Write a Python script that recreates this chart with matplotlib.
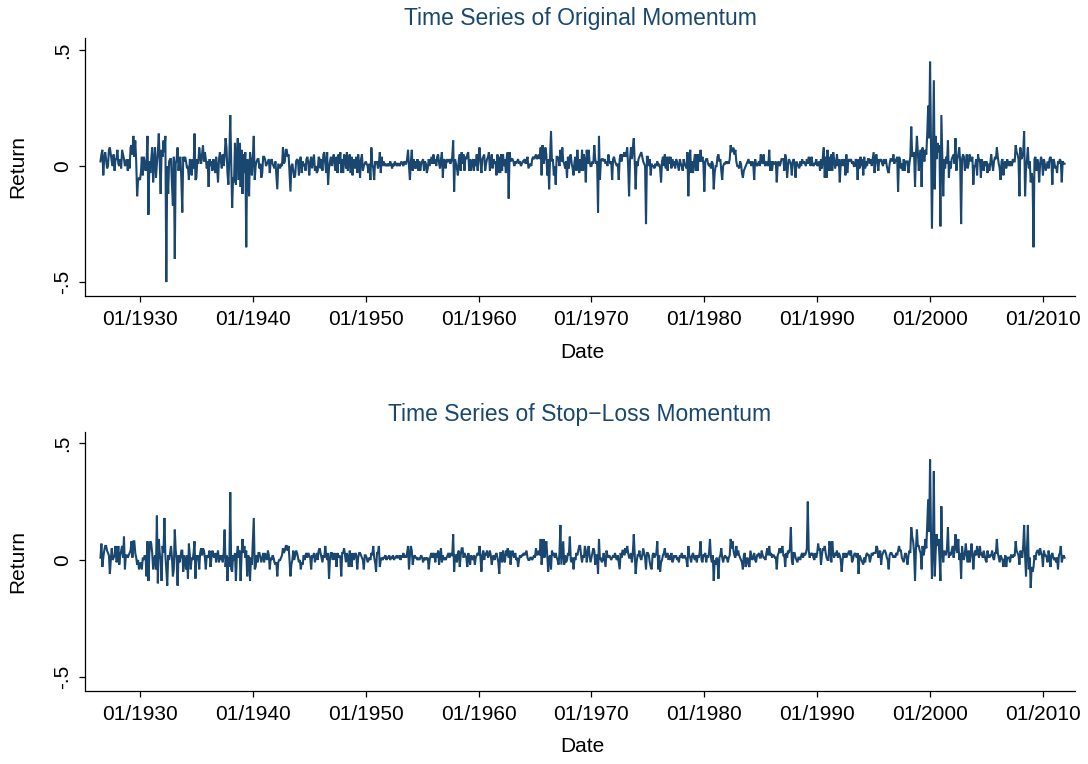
import numpy as np
import matplotlib
matplotlib.use("Agg")
import matplotlib.pyplot as plt

# ---------------- data (monthly returns, in percent) ----------------
# Original momentum
orig_1920s = [2, 5, 7, -4, 3, 6,
              3, -1, 0, 7, 8, 5, 2, 0, 5, -2, 3, 3,
              7, 1, 0, 3, -1, 7, 5, 3, 0, 1, 3, -2,
              3, -1, 8, 9, 5, 13, 4, 11, 2, -13, -6, -5]
orig_1930s = [-6, -3, 4, -4, 4, 2, -2, 1, 13, -21, 2, -3,
              3, 8, -7, 2, 8, -5, 1, 6, 14, 2, -12, 7,
              4, 11, 6, 13, -50, 0, -12, 2, 3, 3, -8, -17,
              4, -40, 1, 3, 8, -2, 3, 4, -6, -20, 4, 2,
              4, 2, -1, 0, -6, 3, 2, -4, 3, -1, 14, -6,
              -5, 3, 1, 8, 4, 1, 5, 9, 2, 6, 3, -1,
              2, -9, 3, 0, 2, -2, 3, 1, -3, 4, -1, -7,
              3, 6, 2, -1, 5, 0, 4, 12, 8, -3, -8, 4,
              22, 3, -18, -5, -7, 10, -8, 5, 12, -6, 10, -9,
              7, -12, 5, -3, 6, -35, 3, 2, -13, 6, 2, -4]
orig_1940s = [4, 13, -6, 0, 2, 3, 3, -1, 1, -5, -3, 4,
              4, 3, 0, 1, 2, 3, -3, 2, 3, 1, 0, -1,
              2, -4, -10, 1, 0, -1, 1, 0, 8, 1, 2, 7,
              7, 4, 5, -3, -11, 0, 1, -2, -5, -4, 2, 3,
              2, -4, 3, 4, -3, 2, 0, 1, -2, 3, 4, 1,
              -4, 2, 4, -1, 2, 5, -2, 0, -3, -2, 4, 3,
              -1, 3, -2, 5, 6, 1, -3, 6, -8, -1, 2, 4,
              0, 3, 5, 0, -2, 4, -3, 5, 1, 6, -3, 3,
              -3, 5, 4, -1, 6, -2, 2, 5, -3, 4, -4, 3,
              0, -1, 4, -3, 5, 1, -5, 3, 5, -2, 0, 1]
orig_1950s = [2, 1, 0, -3, 1, -6, 8, 1, -1, -6, 2, 1,
              2, -1, 1, 6, -3, 4, 0, 2, 1, 0, 1, 0,
              1, 0, 2, 1, -1, 1, 0, 2, 1, 0, 1, 1,
              0, 1, 2, 1, 0, 2, 1, 1, 3, 7, 0, -6,
              2, 7, -2, 3, -1, 2, -1, 3, -2, 2, -2, 1,
              2, 3, -2, 2, 1, -3, -1, 3, 0, 2, 4, 1,
              5, 1, 3, 0, 4, 5, 1, -1, 3, 6, -5, 3,
              2, -1, 3, 2, 2, 3, 1, 2, 4, 11, -11, 3,
              1, -1, -4, 3, 5, -2, 6, 1, 5, -2, 4, 3,
              5, 6, -2, 3, -2, 2, 3, -2, 3, 0, 5, -2]
orig_1960s = [4, 8, 2, -3, 3, 4, 5, -2, 1, 3, 4, 6,
              -2, 1, 5, -1, 3, 1, 2, -4, 5, -3, 4, -3,
              5, -2, 5, 0, 3, -3, 4, 6, -14, 6, 2, 3,
              3, 2, 0, 2, 1, 2, 3, 1, 2, 0, 1, 2,
              2, 3, 1, 2, 4, -1, 0, 1, 0, 3, 4, 3,
              4, 5, 3, 4, 5, 3, 8, -4, 9, 1, 3, 8,
              5, -4, 3, -10, 4, 15, 2, 3, -4, 0, -8, 4,
              4, 3, 0, 7, 2, 8, 2, 1, -1, 2, -5, 4,
              -1, 4, 5, 1, -1, -4, 2, 4, -2, 7, 1, -3,
              3, -2, 7, -2, 5, 2, -7, 7, 1, 7, 2, 0]
orig_1970s = [0, 2, 1, 9, 3, 1, 2, -20, 13, -6, 2, 3,
              3, 2, 3, 1, 2, 0, 5, 2, 1, 2, -6, 3,
              4, 2, 1, 0, 1, -6, 3, 5, 2, 5, 4, 6,
              4, 5, 8, 0, -13, 3, 8, 3, 8, 12, 2, -10,
              2, 0, 3, 4, 5, 6, 4, 2, 1, 0, -25, 4,
              4, 0, 3, -4, 1, 0, 0, -1, 1, 0, 2, 0,
              1, -1, -7, 2, 4, 0, 5, -1, 4, -2, 4, 1,
              4, -1, 3, 0, 2, -1, 3, 2, 0, -2, 3, 1,
              0, -2, 3, 1, 0, -1, 6, -13, 2, 7, -3, 2,
              -3, 2, 5, -2, 5, -2, 5, 2, 7, 2, 4, 1]
orig_1980s = [-11, 2, 3, 3, 1, 0, 1, -1, 2, 1, -10, -3,
              0, 0, 4, 5, 2, 3, -2, -6, 0, 1, 1, 2,
              1, 2, 1, 3, 9, 6, 7, 8, 5, 7, 2, 0,
              0, -1, 2, 1, -3, -5, -2, -1, 0, 1, 2, 3,
              1, 2, 0, 2, 1, -6, 3, 1, 0, 1, 2, 0,
              5, 2, 1, 5, 1, 0, 2, 1, 0, 7, -2, 2,
              -2, 2, 1, 1, 2, -7, 1, 2, 0, 1, 3, 3,
              3, -2, 5, 3, -5, 0, 3, 2, 1, -4, 2, 3,
              1, -5, 2, 1, 0, -1, 2, 0, 3, 1, 2, 1,
              0, 3, 1, 4, 3, 0, 4, 1, 0, 1, 1, 3]
orig_1990s = [0, 1, 2, -2, 3, -1, 4, 8, -5, 4, -5, 7,
              -2, 4, -2, 5, -2, 6, 3, -1, 1, 5, 0, 3,
              -7, 1, 3, 0, 2, 3, -4, 5, -3, 2, 3, 2,
              3, 1, 2, 0, 0, 3, 2, -6, 3, -1, 4, 0,
              3, -4, 4, -1, 2, 0, 3, 3, 1, 3, 0, 3,
              6, -3, 4, 5, 1, -2, 3, 2, 3, 1, 0, 3,
              1, 3, 0, -2, -3, 1, 3, 3, 2, 5, 1, 3,
              2, 4, -11, 4, 3, -1, 1, -2, 3, -2, 2, 2,
              2, -3, 1, 4, 17, 4, 5, 6, -9, 5, 13, 6,
              -2, 3, 7, -9, 8, 4, 2, 7, 5, 14, 26, 12]
orig_2000s = [45, 8, -27, 6, 37, -10, 13, 3, 10, 6, 9, -26,
              22, 5, -13, 3, -1, 4, 1, 11, -5, 2, -1, 3,
              4, 5, 1, 12, -2, 3, 5, 8, 2, -25, 3, 5,
              4, -2, 1, 5, -1, 1, 5, 2, 3, 4, -8, 0,
              0, 3, -4, 5, 2, 3, -5, 3, 1, -2, 2, 0,
              2, -3, 1, -2, 1, 5, 1, -2, 2, 4, 3, 8,
              4, 1, -1, -6, 2, 3, -4, 1, 2, -1, 3, 0,
              2, 0, 2, 0, 3, 2, 2, 9, 6, 5, 3, -13,
              8, 3, 4, 6, 15, -13, -1, 3, 8, -1, 2, -7,
              -3, -6, -35, 3, 4, -2, 3, 1, -7, 1, 4, 2]
orig_2010s = [-4, 3, 1, -2, 0, 2, -1, 3, 4, 2, -8, 3,
              2, -1, 0, -3, 2, 1, 3, 2, -7, 2, 1, 1]

# Stop-loss momentum
sl_1920s = [1, 7, -3, 1, 4, 6,
            6, 4, 3, 2, -6, 0, 5, 0, 1, 2, 6, -1,
            0, 6, -2, 2, 4, 6, 1, 10, -4, 2, 2, 1,
            2, 3, 4, 8, 1, 8, 8, 3, 1, -2, 0, -4]
sl_1930s = [-2, -1, -4, 1, 0, 2, 1, -7, 8, -9, 3, 8,
            7, 3, -4, 0, 2, -4, 19, -10, 9, 3, 0, -9,
            6, 3, 18, 2, -4, -11, 2, 0, 3, 6, 1, -7,
            -4, 13, 4, 0, -11, 2, -1, 1, 4, 4, -5, 2,
            0, -4, 2, -8, 7, 2, -4, 1, 0, 3, 8, -8,
            2, 0, 2, -4, 3, 5, 2, 5, 4, 1, -4, 2,
            1, 2, 4, -3, 1, 4, 2, 1, 3, -1, 2, 4,
            -1, 2, 0, 2, -1, 3, 13, -3, 2, -9, 1, -3,
            29, -4, -5, 2, 0, 3, -9, 2, 6, 1, 4, -9,
            2, 9, 3, 6, 1, 4, -7, 2, 1, -9, 1, -2]
sl_1940s = [8, 18, -4, -3, 2, -1, 3, 3, 1, -1, 1, 3,
            -1, 3, 1, 0, 4, 2, -4, 1, 0, 2, 1, -1,
            -2, -1, -7, -1, 0, 0, 1, 2, 5, 3, 4, 6,
            6, 4, 6, 0, -7, -2, 0, 4, 0, 2, 4, 3,
            1, -1, 0, -4, -1, -2, 2, 0, 2, 3, 1, 3,
            2, 1, -4, 2, 1, 3, -1, 1, 3, 0, 4, 5,
            3, 1, -1, 2, 1, 6, 2, 0, 3, -8, 0, 3,
            3, 0, 3, 0, 3, -3, 3, 1, 2, 1, -7, 3,
            3, 5, 2, -1, 3, 1, -3, 4, 1, -3, 3, 0,
            1, 3, 2, -4, 1, 3, 3, 2, 1, 0, -4, 2]
sl_1950s = [2, 1, -1, 0, 1, 0, 3, 2, 6, 1, -1, -5,
            3, 3, 6, -3, 0, 1, 0, 1, 1, 2, 0, 1,
            1, 2, 0, 1, 1, 2, 0, 1, 1, 2, 1, 1,
            2, 0, 2, 1, 3, 1, 2, 1, 3, 6, -4, 2,
            6, 4, -2, 1, 2, 1, 1, 0, 1, 0, 1, 2,
            1, -1, 1, 0, 1, 0, 1, -4, 0, 2, 3, 1,
            3, 2, -1, 3, 1, 4, -2, 2, 5, -1, 2, 0,
            1, 0, 1, 2, 3, 1, 3, 2, 2, 11, -5, 2,
            2, -1, 3, 4, -3, 2, 5, 5, 1, 3, 2, 1,
            -3, 3, 1, -2, 2, 1, 0, 2, -2, 1, 2, 3]
sl_1960s = [2, 6, 1, -5, 2, 4, 0, 3, 2, 4, 1, 2,
            4, 2, -2, 1, 2, 0, 2, 3, 1, -1, -6, 3,
            3, -1, 4, 0, -1, 4, 2, 5, 1, 4, -2, 2,
            4, 2, 1, 3, 0, 1, -3, 0, 2, 1, 2, 2,
            3, 2, 3, 4, 1, 0, 0, 1, 1, 0, 1, 2,
            1, 5, 2, 3, 4, 2, 9, -2, 3, 9, 1, 4,
            8, 2, -5, 1, 2, -4, 4, 2, 3, 1, 3, 1,
            0, -2, 3, 15, -2, 3, 8, -2, 2, -1, 0, 3,
            2, 10, 0, -1, 1, -4, 1, 0, 3, 2, 4, 6,
            6, 2, -1, 2, 1, 6, 4, -1, 3, 6, 2, -1]
sl_1970s = [1, 3, 5, 4, -2, 2, 2, -6, 9, 0, 1, -1,
            0, 3, 0, -3, 4, 2, 1, 2, 1, 0, 1, 2,
            1, 3, 1, 0, 2, -1, -4, 3, 1, 4, 4, 2,
            5, 3, 6, 3, 1, 1, 3, -1, 3, 11, 2, -6,
            -1, 2, 2, 4, 1, 0, 2, 5, 3, 1, -4, 3,
            3, 2, -1, -3, -4, 2, 3, 1, 2, 3, 8, -4,
            2, -5, -1, 0, 2, 3, 5, 1, 2, 3, 0, 2,
            0, 3, -1, 0, 2, 1, 2, 0, 1, -1, 2, 1,
            3, 1, 1, 2, 1, 0, -3, 6, 2, 1, -1, 2,
            3, 1, 0, 2, -1, 2, 1, 3, 8, 0, -1, 2]
sl_1980s = [2, 3, -1, 2, 1, 3, 9, 1, -1, 2, -9, 0,
            -2, 1, 0, -8, 1, 2, 5, 1, -1, 1, 2, 1,
            1, -1, 1, 2, 9, 5, 8, 4, 2, 1, 6, 2,
            4, 2, 1, 0, -1, -4, 2, 3, -3, 0, 1, -2,
            -3, 4, 2, 0, 1, 3, 0, -1, 2, 2, 3, 1,
            1, 4, 2, 1, 1, 0, 3, 5, 2, 6, 2, 3,
            1, 2, 2, 1, 1, -4, 2, 3, 5, 3, 4, 6,
            2, 2, -3, 3, 1, 4, 3, 5, 14, 0, -2, 3,
            3, 1, 0, -1, 1, 1, 0, 2, 3, 1, 3, 2,
            3, 5, 25, 4, 1, 3, 2, 3, 1, 0, 3, 1]
sl_1990s = [3, 7, 4, 5, -2, 2, 5, 4, 6, 3, 1, 0,
            0, 8, 5, -1, 8, 3, 1, 3, 2, 4, 1, 3,
            2, 0, -5, 0, 3, 1, 3, 1, 2, 3, 4, 2,
            4, -1, 0, 2, 3, 2, 1, 3, -6, 2, 1, 0,
            -1, -2, 1, -1, 2, 3, 2, 2, -1, 1, 3, 2,
            3, 3, 3, 6, 5, 1, 3, 4, -2, 2, 3, 4,
            4, 3, 1, 0, -4, 2, 3, 3, 2, 1, 2, 1,
            3, 2, 4, 6, 4, 4, 1, 0, -1, 2, 3, 1,
            -2, 2, 4, 3, 14, 10, 8, 3, -9, 5, 13, 6,
            6, 4, 3, -4, 6, 2, 4, 9, 5, 15, 26, 12]
sl_2000s = [43, 10, -8, 5, 38, -7, 4, 11, 6, 9, 1, -9,
            23, 4, -1, 4, 3, 2, 5, 14, 1, 3, 2, 4,
            6, 1, 4, 11, 5, 3, 9, 0, 3, -8, 6, 2,
            0, 3, 7, 2, -1, 4, -1, 2, 7, 3, -4, 2,
            4, 2, 6, 3, 1, 6, 2, 3, 1, 4, 2, 0,
            -1, 4, 2, 1, 2, 2, 4, 1, 0, 3, 3, 9,
            3, 1, -1, 2, 1, 0, -3, 0, 2, -3, 1, 1,
            1, -1, 2, 2, 1, 2, 2, 8, 4, 3, 2, -2,
            4, 3, 1, 6, 15, 2, -7, 5, 15, -4, 1, -12,
            -3, -5, -3, 2, 0, 3, 4, 4, 2, 5, 3, 2]
sl_2010s = [-3, 4, 2, 2, 1, -1, 4, 1, -3, 2, 3, 1,
            0, 1, -1, 1, -4, 2, 3, 6, -1, 1, 2, 1]

segment_starts = [1926.5, 1930, 1940, 1950, 1960, 1970, 1980, 1990, 2000, 2010]
orig_segments = [orig_1920s, orig_1930s, orig_1940s, orig_1950s, orig_1960s,
                 orig_1970s, orig_1980s, orig_1990s, orig_2000s, orig_2010s]
sl_segments = [sl_1920s, sl_1930s, sl_1940s, sl_1950s, sl_1960s,
               sl_1970s, sl_1980s, sl_1990s, sl_2000s, sl_2010s]

tick_years = [1930, 1940, 1950, 1960, 1970, 1980, 1990, 2000, 2010]
tick_labels = ["01/%d" % y for y in tick_years]
ytick_vals = [-0.5, 0, 0.5]
ytick_labels = ["-.5", "0", ".5"]
titles = ["Time Series of Original Momentum", "Time Series of Stop\u2212Loss Momentum"]


def build(segments):
    xs, ys = [], []
    for start, vals in zip(segment_starts, segments):
        xs.append(start + np.arange(len(vals)) / 12.0)
        ys.append(np.asarray(vals, dtype=float) / 100.0)
    return np.concatenate(xs), np.concatenate(ys)


plt.rcParams['font.family'] = ['Liberation Sans', 'DejaVu Sans']

W, H = 1088, 764
fig = plt.figure(figsize=(W / 100, H / 100), dpi=100)
navy = '#1a476f'

panels = [
    dict(top=38, bottom=296, ylim=(-0.56, 0.552), title_y=19, xlabel_y=352, seg=orig_segments),
    dict(top=432, bottom=691, ylim=(-0.561, 0.548), title_y=414, xlabel_y=746, seg=sl_segments),
]

left_px, right_px = 85, 1075
for p, title in zip(panels, titles):
    ax = fig.add_axes([left_px / W, 1 - p['bottom'] / H,
                       (right_px - left_px) / W, (p['bottom'] - p['top']) / H])
    x, y = build(p['seg'])
    ax.plot(x, y, color=navy, lw=1.5, solid_joinstyle='miter')
    ax.set_xlim(1925.13, 2012.84)
    ax.set_ylim(*p['ylim'])
    ax.set_xticks(tick_years)
    ax.set_xticklabels(tick_labels, fontsize=15)
    ax.set_yticks(ytick_vals)
    ax.set_yticklabels(ytick_labels, fontsize=15, rotation=90, va='center')
    for s in ['top', 'right']:
        ax.spines[s].set_visible(False)
    for s in ['left', 'bottom']:
        ax.spines[s].set_linewidth(0.9)
        ax.spines[s].set_color('#000000')
    ax.tick_params(axis='both', direction='out', length=4, width=0.9, colors='#000000')
    ax.tick_params(axis='x', pad=6)
    ax.tick_params(axis='y', pad=5)
    fig.text(580 / W, 1 - p['title_y'] / H, title, ha='center', va='center',
             fontsize=16.5, color=navy)
    fig.text(582 / W, 1 - p['xlabel_y'] / H, "Date", ha='center', va='center', fontsize=15)
    fig.text(18 / W, 1 - (p['top'] + p['bottom']) / 2 / H, "Return", ha='center', va='center',
             fontsize=15, rotation=90)

fig.savefig("out.png", dpi=100, facecolor='white')
